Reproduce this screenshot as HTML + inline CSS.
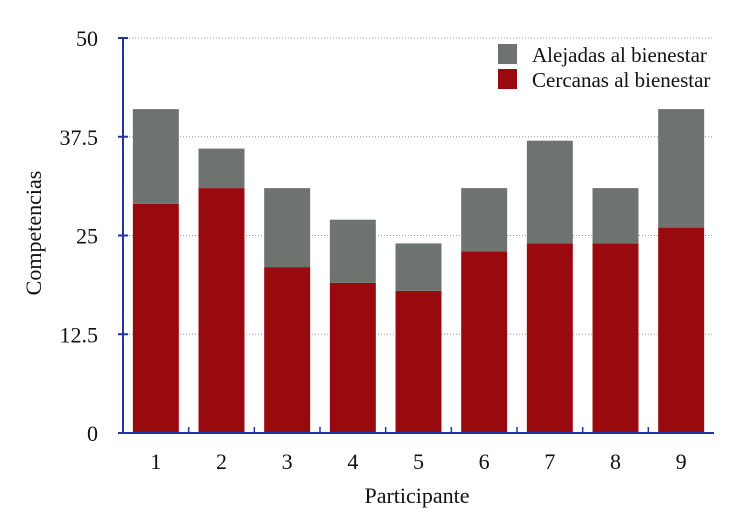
<!DOCTYPE html>
<html><head><meta charset="utf-8"><style>
body{margin:0;background:#fff;}
svg text{font-family:"Liberation Serif",serif;fill:#111;}
</style></head><body>
<svg width="749" height="512" viewBox="0 0 749 512">
<g id="grid"></g>
<g id="bars"></g>
<g id="axes"></g>
<g>
  <rect x="498" y="44" width="19" height="20" fill="#6e7370"/>
  <text x="532" y="62" font-size="21">Alejadas al bienestar</text>
  <rect x="498" y="69" width="19" height="20" fill="#990a0f"/>
  <text x="532" y="87" font-size="21">Cercanas al bienestar</text>
</g>
<text x="417" y="503" font-size="22" text-anchor="middle">Participante</text>
<text transform="translate(41,233) rotate(-90)" font-size="22" text-anchor="middle">Competencias</text>
</svg>
<script>
const categories = ["1","2","3","4","5","6","7","8","9"];
const cercanas = [29,31,21,19,18,23,24,24,26];
const alejadas = [12,5,10,8,6,8,13,7,15];
const yTicks = [0,12.5,25,37.5,50];
const yTickLabels = ["0","12.5","25","37.5","50"];

const NS="http://www.w3.org/2000/svg";
const x0=123,x1=714,y0=433,y1=38,ymax=50;
const band=(x1-x0)/categories.length;
function y(v){return y0-(v/ymax)*(y0-y1);}
function xb(i){return x0+i*band;}
function mk(tag,attrs,parent){const e=document.createElementNS(NS,tag);for(const k in attrs)e.setAttribute(k,attrs[k]);document.getElementById(parent).appendChild(e);return e;}

yTicks.forEach((t,i)=>{
  if(t>0){
    const g=mk('line',{x1:x0,x2:x1,y1:y(t),y2:y(t),stroke:'#999','stroke-dasharray':'1,2','stroke-width':1},'grid');
    
    
  }
  const tk=mk('line',{x1:x0-5,x2:x0+5,y1:y(t),y2:y(t),stroke:'#2233aa','stroke-width':2},'axes');
  
  
  const lb=mk('text',{x:98,y:y(t)+8,'font-size':22,'text-anchor':'end'},'axes');
  lb.textContent=yTickLabels[i];
  
  
});

categories.forEach((c,i)=>{
  const bx=xb(i)+band*0.15, bw=band*0.7;
  const r=mk('rect',{x:bx,y:y(cercanas[i]),width:bw,height:y0-y(cercanas[i]),fill:'#990a0f'},'bars');
  
  
  const tot=cercanas[i]+alejadas[i];
  const g=mk('rect',{x:bx,y:y(tot),width:bw,height:y(cercanas[i])-y(tot),fill:'#6e7370'},'bars');
  
  
  const lb=mk('text',{x:xb(i)+band/2,y:y0+36,'font-size':22,'text-anchor':'middle'},'axes');
  lb.textContent=c;
  
  
  if(i>0){
    const tk=mk('line',{x1:xb(i),x2:xb(i),y1:y0,y2:y0-6,stroke:'#2233aa','stroke-width':1.5},'axes');
    
    
  }
});
const ya=mk('line',{x1:x0,x2:x0,y1:y1,y2:y0,stroke:'#2233aa','stroke-width':2},'axes');


const xa=mk('line',{x1:x0-5,x2:x1,y1:y0,y2:y0,stroke:'#2233aa','stroke-width':2},'axes');


</script>
</body></html>
